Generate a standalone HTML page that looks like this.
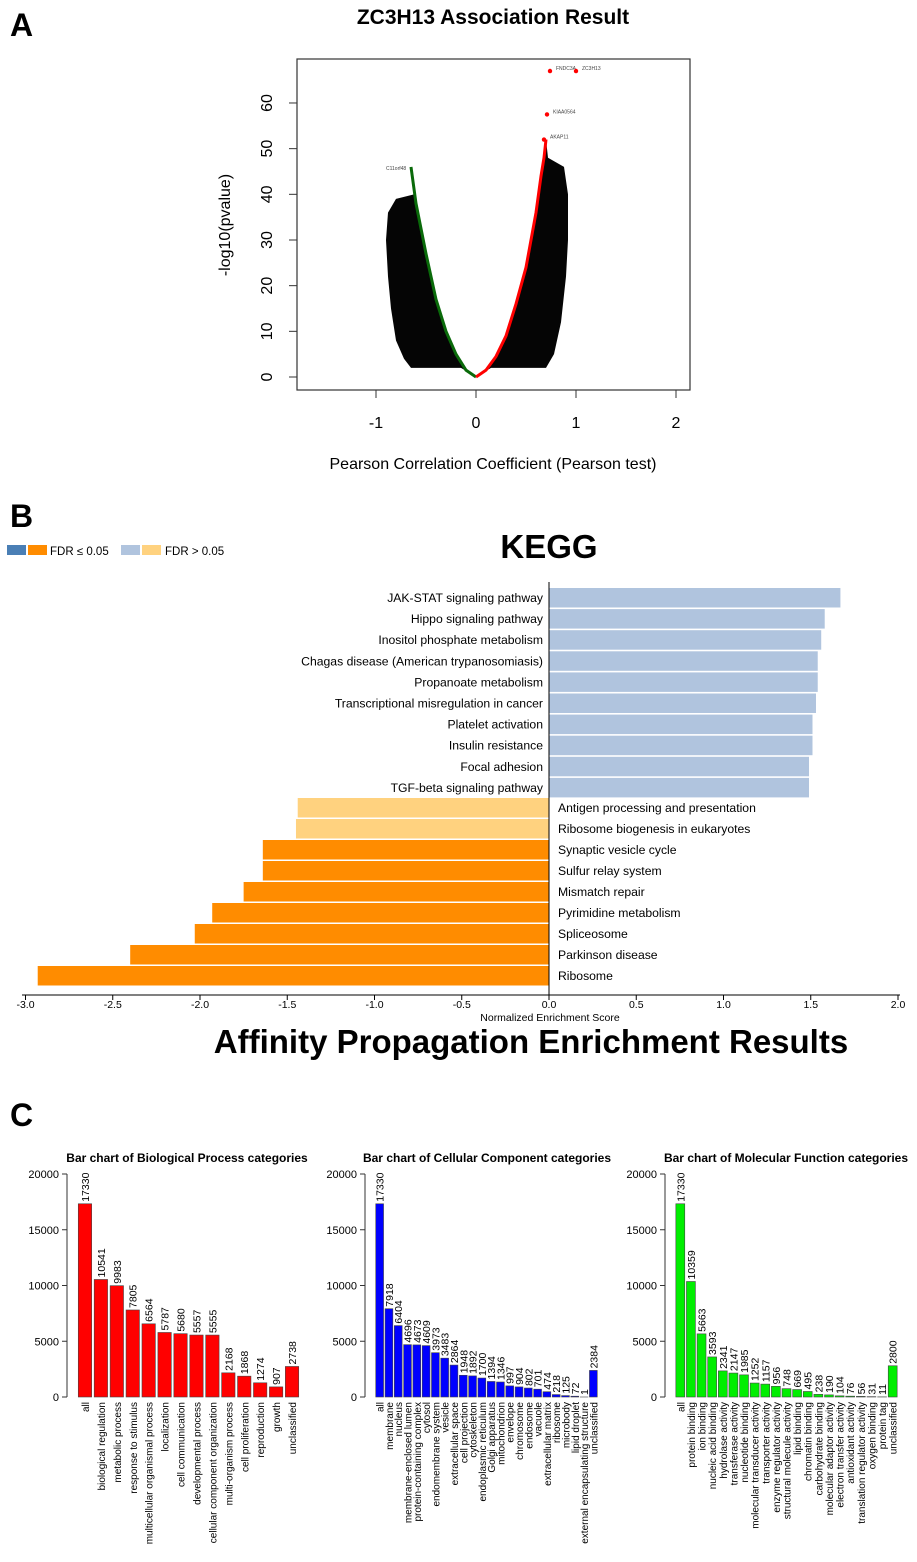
<!DOCTYPE html>
<html><head><meta charset="utf-8"><style>
html,body{margin:0;padding:0;background:#fff;}
svg{display:block;font-family:"Liberation Sans",sans-serif;}
.kt{font-family:"Liberation Sans",sans-serif;}
</style></head><body>
<svg id="fig" width="917" height="1562" viewBox="0 0 917 1562" xmlns="http://www.w3.org/2000/svg">
<g id="pA"></g>
<g id="pB"></g>
<g id="pC"></g>
</svg>
<script>
// ---------- Panel A data ----------
const greenR=[-0.65,-0.6,-0.5,-0.4,-0.3,-0.2,-0.1,0];
const greenY=[46,38,27,17,10,5,1.5,0];
const redR=[0,0.1,0.2,0.3,0.4,0.5,0.6,0.65,0.68,0.7];
const redY=[0,1.5,4.5,9,16,24,36,44,48,52];
const cloudLeftR=[-0.62,-0.8,-0.88,-0.9,-0.88,-0.85,-0.8,-0.72,-0.65,-0.15];
const cloudLeftY=[40,39,36,30,22,15,8,4,2,2];
const cloudRightR=[0.15,0.7,0.78,0.85,0.9,0.92,0.92,0.88,0.72];
const cloudRightY=[2,2,5,12,22,30,40,46,48];
const topGenes=['FNDC3A','ZC3H13','KIAA0564','AKAP11'];
const topR=[0.74,1.0,0.71,0.68];
const topY=[67,67,57.5,52];
const axTicksX=[-1,0,1,2];
const axTicksY=[0,10,20,30,40,50,60];

// ---------- Panel B data ----------
const keggPos=['JAK-STAT signaling pathway','Hippo signaling pathway','Inositol phosphate metabolism','Chagas disease (American trypanosomiasis)','Propanoate metabolism','Transcriptional misregulation in cancer','Platelet activation','Insulin resistance','Focal adhesion','TGF-beta signaling pathway'];
const keggPosVal=[1.67,1.58,1.56,1.54,1.54,1.53,1.51,1.51,1.49,1.49];
const keggNeg=['Antigen processing and presentation','Ribosome biogenesis in eukaryotes','Synaptic vesicle cycle','Sulfur relay system','Mismatch repair','Pyrimidine metabolism','Spliceosome','Parkinson disease','Ribosome'];
const keggNegVal=[-1.44,-1.45,-1.64,-1.64,-1.75,-1.93,-2.03,-2.4,-2.93];
const keggNegSig=[false,false,true,true,true,true,true,true,true];
const keggTicks=[-3.0,-2.5,-2.0,-1.5,-1.0,-0.5,0.0,0.5,1.0,1.5,2.0];

// ---------- Panel C data ----------
const bpCats=['all','biological regulation','metabolic process','response to stimulus','multicellular organismal process','localization','cell communication','developmental process','cellular component organization','multi-organism process','cell proliferation','reproduction','growth','unclassified'];
const bpVals=[17330,10541,9983,7805,6564,5787,5680,5557,5555,2168,1868,1274,907,2738];
const ccCats=['all','membrane','nucleus','membrane-enclosed lumen','protein-containing complex','cytosol','endomembrane system','vesicle','extracellular space','cell projection','cytoskeleton','endoplasmic reticulum','Golgi apparatus','mitochondrion','envelope','chromosome','endosome','vacuole','extracellular matrix','ribosome','microbody','lipid droplet','external encapsulating structure','unclassified'];
const ccVals=[17330,7918,6404,4696,4673,4609,3973,3483,2864,1948,1892,1700,1394,1346,997,904,802,701,474,218,125,72,1,2384];
const mfCats=['all','protein binding','ion binding','nucleic acid binding','hydrolase activity','transferase activity','nucleotide binding','molecular transducer activity','transporter activity','enzyme regulator activity','structural molecule activity','lipid binding','chromatin binding','carbohydrate binding','molecular adaptor activity','electron transfer activity','antioxidant activity','translation regulator activity','oxygen binding','protein tag','unclassified'];
const mfVals=[17330,10359,5663,3593,2341,2147,1985,1252,1157,956,748,669,495,238,190,104,76,56,31,11,2800];
const goTicks=[0,5000,10000,15000,20000];

const NS='http://www.w3.org/2000/svg';
function mk(parent,tag,attrs,text){const e=document.createElementNS(NS,tag);for(const k in attrs)e.setAttribute(k,attrs[k]);if(text!==undefined)e.textContent=text;parent.appendChild(e);return e;}
const fig=document.getElementById('fig');

[['A',10,36],['B',10,527],['C',10,1126]].forEach(function(l){
  const t=mk(fig,'text',{x:l[1],y:l[2],'font-size':32,'font-weight':'bold'},l[0]);
  
  
});

// ---------- Panel A ----------
(function(){
  const g=document.getElementById('pA');
  const X=r=>476+r*100, Y=v=>377-v*4.567;
  let t=mk(g,'text',{x:493,y:24,'font-size':21,'font-weight':'bold','text-anchor':'middle'},'ZC3H13 Association Result');
  
  let r=mk(g,'rect',{x:297,y:59,width:393,height:331,fill:'none',stroke:'#333','stroke-width':1.2});
  
  let pts=[];
  greenR.forEach((v,i)=>pts.push(X(v)+','+Y(greenY[i])));
  for(let i=cloudLeftR.length-1;i>=0;i--)pts.push(X(cloudLeftR[i])+','+Y(cloudLeftY[i]));
  let p=mk(g,'polygon',{points:pts.join(' '),fill:'#050505'});
  
  pts=[];
  redR.forEach((v,i)=>pts.push(X(v)+','+Y(redY[i])));
  for(let i=cloudRightR.length-1;i>=0;i--)pts.push(X(cloudRightR[i])+','+Y(cloudRightY[i]));
  p=mk(g,'polygon',{points:pts.join(' '),fill:'#050505'});
  
  let l=mk(g,'polyline',{points:greenR.map((v,i)=>X(v)+','+Y(greenY[i])).join(' '),fill:'none',stroke:'#0a6a0a','stroke-width':3});
  
  l=mk(g,'polyline',{points:redR.map((v,i)=>X(v)+','+Y(redY[i])).join(' '),fill:'none',stroke:'#f00','stroke-width':3});
  
  topR.forEach((v,i)=>{
    const c=mk(g,'circle',{cx:X(v),cy:Y(topY[i]),r:2.2,fill:'#f00'});
    
    const tt=mk(g,'text',{x:X(v)+6,y:Y(topY[i])-1,'font-size':5,fill:'#444'},topGenes[i]);
    
  });
  const lab=mk(g,'text',{x:X(-0.9),y:Y(46)+3,'font-size':5,fill:'#444'},'C11orf48');
  
  axTicksX.forEach(v=>{
    const ln=mk(g,'line',{x1:X(v),x2:X(v),y1:390,y2:398,stroke:'#333'});
    
    const tx=mk(g,'text',{x:X(v),y:428,'font-size':16,'text-anchor':'middle'},v);
    
  });
  axTicksY.forEach(v=>{
    const ln=mk(g,'line',{x1:289,x2:297,y1:Y(v),y2:Y(v),stroke:'#333'});
    
    const tx=mk(g,'text',{x:272,y:Y(v),'font-size':16,'text-anchor':'middle',transform:'rotate(-90 272 '+Y(v)+')'},v);
    
  });
  t=mk(g,'text',{x:230,y:225,'font-size':16,'text-anchor':'middle',transform:'rotate(-90 230 225)'},'-log10(pvalue)');
  
  t=mk(g,'text',{x:493,y:469,'font-size':16,'text-anchor':'middle'},'Pearson Correlation Coefficient (Pearson test)');
  
})();

// ---------- Panel B ----------
(function(){
  const g=document.getElementById('pB');
  const X=v=>549+v*174.5;
  const rowPos=i=>598+i*21.1, rowNeg=i=>808+i*21;
  [['#4a7fb5',7],['#ff8c00',28]].forEach(c=>{const r=mk(g,'rect',{x:c[1],y:545,width:19,height:10,fill:c[0]});});
  let t=mk(g,'text',{x:50,y:555,'font-size':11.5,class:'kt'},'FDR ≤ 0.05');
  [['#b0c4de',121],['#ffd27f',142]].forEach(c=>{const r=mk(g,'rect',{x:c[1],y:545,width:19,height:10,fill:c[0]});});
  t=mk(g,'text',{x:165,y:555,'font-size':11.5,class:'kt'},'FDR > 0.05');
  t=mk(g,'text',{x:549,y:558,'font-size':33,'font-weight':'bold','text-anchor':'middle'},'KEGG');
  keggPos.forEach((n,i)=>{
    const y=rowPos(i);
    const r=mk(g,'rect',{x:X(0),y:y-10,width:X(keggPosVal[i])-X(0),height:19.5,fill:'#b0c4de'});
    
    const tx=mk(g,'text',{x:543,y:y+4,'font-size':12.2,'text-anchor':'end',class:'kt'},n);
    
  });
  keggNeg.forEach((n,i)=>{
    const y=rowNeg(i);
    const r=mk(g,'rect',{x:X(keggNegVal[i]),y:y-10,width:X(0)-X(keggNegVal[i]),height:19.5,fill:keggNegSig[i]?'#ff8c00':'#ffd27f'});
    
    const tx=mk(g,'text',{x:558,y:y+4,'font-size':12.2,class:'kt'},n);
    
  });
  let ln=mk(g,'line',{x1:549,x2:549,y1:582,y2:996,stroke:'#000'});
  ln=mk(g,'line',{x1:22,x2:900,y1:995,y2:995,stroke:'#000'});
  keggTicks.forEach(v=>{
    const l2=mk(g,'line',{x1:X(v),x2:X(v),y1:995,y2:1000,stroke:'#000'});
    const tx=mk(g,'text',{x:X(v),y:1008,'font-size':10.5,'text-anchor':'middle',class:'kt'},v.toFixed(1));
    
  });
  t=mk(g,'text',{x:550,y:1021,'font-size':10.5,'text-anchor':'middle',class:'kt'},'Normalized Enrichment Score');
  t=mk(g,'text',{x:531,y:1053,'font-size':33,'font-weight':'bold','text-anchor':'middle'},'Affinity Propagation Enrichment Results');
})();

// ---------- Panel C ----------
function goChart(g,title,cats,vals,color,axisX,barL,barR,titleX){
  const Y=v=>1397-v*(223/20000);
  const n=cats.length, step=(barR-barL)/n, bw=step*0.84;
  let t=mk(g,'text',{x:titleX,y:1162,'font-size':12,'font-weight':'bold','text-anchor':'middle'},title);
  
  let ln=mk(g,'line',{x1:axisX,x2:axisX,y1:Y(0),y2:Y(20000),stroke:'#333'});
  
  goTicks.forEach(v=>{
    const l2=mk(g,'line',{x1:axisX-5,x2:axisX,y1:Y(v),y2:Y(v),stroke:'#333'});
    const tx=mk(g,'text',{x:axisX-8,y:Y(v)+4,'font-size':11,'text-anchor':'end'},v);
    
  });
  cats.forEach((c,i)=>{
    const x=barL+i*step+(step-bw)/2, cx=x+bw/2;
    const r=mk(g,'rect',{x:x,y:Y(vals[i]),width:bw,height:Y(0)-Y(vals[i]),fill:color,stroke:'#444','stroke-width':0.6});
    
    const vy=Y(vals[i])-2;
    const vt=mk(g,'text',{x:cx+4,y:vy,'font-size':10.5,transform:'rotate(-90 '+(cx+4)+' '+vy+')'},vals[i]);
    
    const ly=1402;
    const lt=mk(g,'text',{x:cx+4,y:ly,'font-size':10,'text-anchor':'end',transform:'rotate(-90 '+(cx+4)+' '+ly+')'},c);
    
  });
}
(function(){
  const g=document.getElementById('pC');
  const g1=mk(g,'g',{});
  goChart(g1,'Bar chart of Biological Process categories',bpCats,bpVals,'#ff0000',67,77,300,187);
  const g2=mk(g,'g',{});
  goChart(g2,'Bar chart of Cellular Component categories',ccCats,ccVals,'#0000ff',365,375,598,487);
  const g3=mk(g,'g',{});
  goChart(g3,'Bar chart of Molecular Function categories',mfCats,mfVals,'#00ee00',665,675,898,786);
})();
</script>
</body></html>
